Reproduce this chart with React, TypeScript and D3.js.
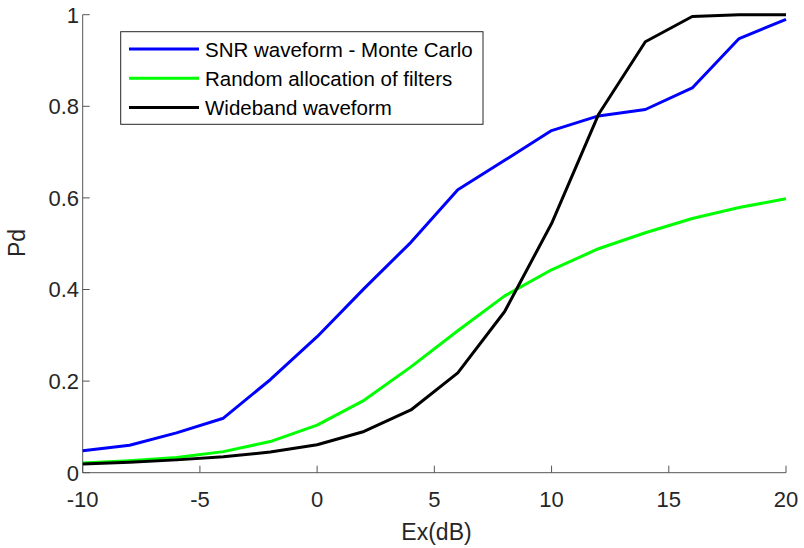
import React from "react";
import * as d3 from "d3";

const xValues = [-10, -8, -6, -4, -2, 0, 2, 4, 6, 8, 10, 12, 14, 16, 18, 20];
const snrMonteCarlo = [0.048, 0.06, 0.087, 0.119, 0.203, 0.297, 0.402, 0.503, 0.618, 0.682, 0.747, 0.779, 0.793, 0.84, 0.948, 0.99];
const randomAlloc = [0.021, 0.026, 0.033, 0.046, 0.068, 0.104, 0.158, 0.231, 0.31, 0.386, 0.443, 0.489, 0.524, 0.555, 0.579, 0.598];
const wideband = [0.019, 0.023, 0.028, 0.035, 0.045, 0.061, 0.09, 0.137, 0.218, 0.352, 0.544, 0.782, 0.941, 0.996, 1.0, 1.0];
const seriesNames = ["SNR waveform - Monte Carlo", "Random allocation of filters", "Wideband waveform"];
const seriesColors = ["#0000ff", "#00ff00", "#000000"];
const xTicks = [-10, -5, 0, 5, 10, 15, 20];
const yTicks = [0, 0.2, 0.4, 0.6, 0.8, 1];

export default function App() {
  const W = 804, H = 548;
  const x = d3.scaleLinear().domain([-10, 20]).range([82.7, 786]);
  const y = d3.scaleLinear().domain([0, 1]).range([472.7, 14.7]);
  const line = d3.line<number>().x((_, i) => x(xValues[i])).y((d) => y(d));
  const series = [snrMonteCarlo, randomAlloc, wideband];
  const font = "'Liberation Sans', Arial, sans-serif";
  const axisColor = "#555";
  const textColor = "#262626";
  return (
    <svg width={W} height={H} style={{ position: "absolute", left: 0, top: 0 }} fontFamily={font}>
      <rect width={W} height={H} fill="#fff" />
      {/* axes */}
      <line x1={x(-10)} x2={x(20)} y1={y(0)} y2={y(0)} stroke={axisColor} strokeWidth={1} />
      <line x1={x(-10)} x2={x(-10)} y1={y(0)} y2={y(1)} stroke={axisColor} strokeWidth={1} />
      {xTicks.map((t) => (
        <g key={"x" + t}>
          <line x1={x(t)} x2={x(t)} y1={y(0)} y2={y(0) - 7} stroke={axisColor} strokeWidth={1} />
          <text x={x(t)} y={507} textAnchor="middle" fontSize={22} fill={textColor}>{t}</text>
        </g>
      ))}
      {yTicks.map((t) => (
        <g key={"y" + t}>
          <line x1={x(-10)} x2={x(-10) + 7} y1={y(t)} y2={y(t)} stroke={axisColor} strokeWidth={1} />
          <text x={79} y={y(t) + 7.8} textAnchor="end" fontSize={22} fill={textColor}>{t}</text>
        </g>
      ))}
      <text x={436.5} y={540} textAnchor="middle" fontSize={23} fill={textColor}>Ex(dB)</text>
      <text transform={`translate(25,243) rotate(-90)`} textAnchor="middle" fontSize={23} fill={textColor}>Pd</text>
      {/* lines */}
      {series.map((s, i) => (
        <path key={i} d={line(s) || ""} fill="none" stroke={seriesColors[i]} strokeWidth={3} strokeLinejoin="round" />
      ))}
      {/* legend */}
      <rect x={120.7} y={31.7} width={362.3} height={92.6} fill="#fff" stroke="#262626" strokeWidth={1} />
      {seriesNames.map((n, i) => (
        <g key={n}>
          <line x1={129} x2={199} y1={49 + i * 29.3} y2={49 + i * 29.3} stroke={seriesColors[i]} strokeWidth={3} />
          <text x={205} y={49 + i * 29.3 + 7.6} fontSize={20.5} fill="#000">{n}</text>
        </g>
      ))}
    </svg>
  );
}
